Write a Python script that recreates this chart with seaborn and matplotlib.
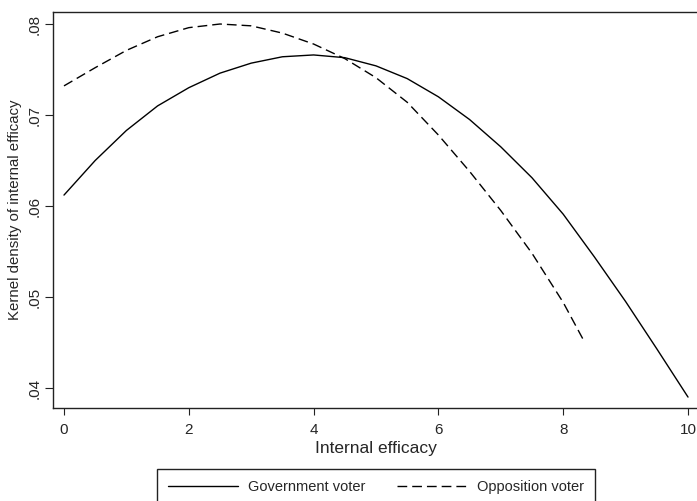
import numpy as np
import pandas as pd
import matplotlib
matplotlib.use("Agg")
import matplotlib.pyplot as plt
import seaborn as sns

# values
gov_x = [0, 0.5, 1, 1.5, 2, 2.5, 3, 3.5, 4, 4.5, 5, 5.5, 6, 6.5, 7, 7.5, 8, 8.5, 9, 9.5, 10]
gov_y = [.0612, .0650, .0683, .0710, .0730, .0746, .0757, .0764, .0766, .0763, .0754,
         .0740, .0720, .0695, .0665, .0631, .0591, .0544, .0495, .0443, .0390]
opp_x = [0, 0.5, 1, 1.5, 2, 2.5, 3, 3.5, 4, 4.5, 5, 5.5, 6, 6.5, 7, 7.5, 8, 8.33]
opp_y = [.0732, .0752, .0771, .0786, .0796, .0800, .0798, .0790, .0778, .0762, .0741,
         .0714, .0678, .0638, .0595, .0548, .0494, .0452]

labels = ["Government voter", "Opposition voter"]
x_ticks = [0, 2, 4, 6, 8, 10]
y_ticks = [.04, .05, .06, .07, .08]
y_ticklabels = [".04", ".05", ".06", ".07", ".08"]

df = pd.concat([
    pd.DataFrame({"x": gov_x, "y": gov_y, "group": labels[0]}),
    pd.DataFrame({"x": opp_x, "y": opp_y, "group": labels[1]}),
])

sns.set_theme(style="ticks")
plt.rcParams["font.family"] = ["Liberation Sans", "DejaVu Sans"]

fig = plt.figure(figsize=(6.97, 5.01), dpi=100)
ax = fig.add_axes([53 / 697, 1 - 408 / 501, 646 / 697, 396 / 501])

sns.lineplot(data=df[df.group == labels[0]], x="x", y="y", color="black",
             linewidth=1.0, ax=ax, label=labels[0], errorbar=None)
sns.lineplot(data=df[df.group == labels[1]], x="x", y="y", color="black",
             linewidth=1.0, ax=ax, label=labels[1], errorbar=None,
             linestyle=(0, (7, 3.6)))
ax.get_legend().remove()

ax.set_xlim(-0.176, 10.176)
ax.set_ylim(0.0378, 0.08132)
ax.set_xticks(x_ticks)
ax.set_yticks(y_ticks)
ax.set_yticklabels(y_ticklabels, rotation=90, va="center")
ax.tick_params(axis="x", labelsize=11, length=5, width=0.8, pad=6, color="#222222")
ax.tick_params(axis="y", labelsize=11, length=5.5, width=0.8, pad=3, color="#222222")

for side in ["left", "bottom", "top"]:
    ax.spines[side].set_color("#222222")
    ax.spines[side].set_linewidth(1.0)
ax.spines["right"].set_visible(False)

ax.set_xlabel("Internal efficacy", fontsize=12.5, labelpad=3)
ax.set_ylabel("Kernel density of internal efficacy", fontsize=10.8, labelpad=4)

handles = ax.get_lines()[:2]
leg = fig.legend(handles, labels, loc="upper center",
                 bbox_to_anchor=(376 / 697, 1 - 469 / 501), ncol=2,
                 fontsize=10.5, handlelength=4.8, handletextpad=0.75,
                 columnspacing=2.1, borderpad=0.75, borderaxespad=0,
                 fancybox=False, frameon=True, framealpha=1,
                 edgecolor="#222222")
leg.get_frame().set_linewidth(1.0)

fig.savefig("out.png", dpi=100)
